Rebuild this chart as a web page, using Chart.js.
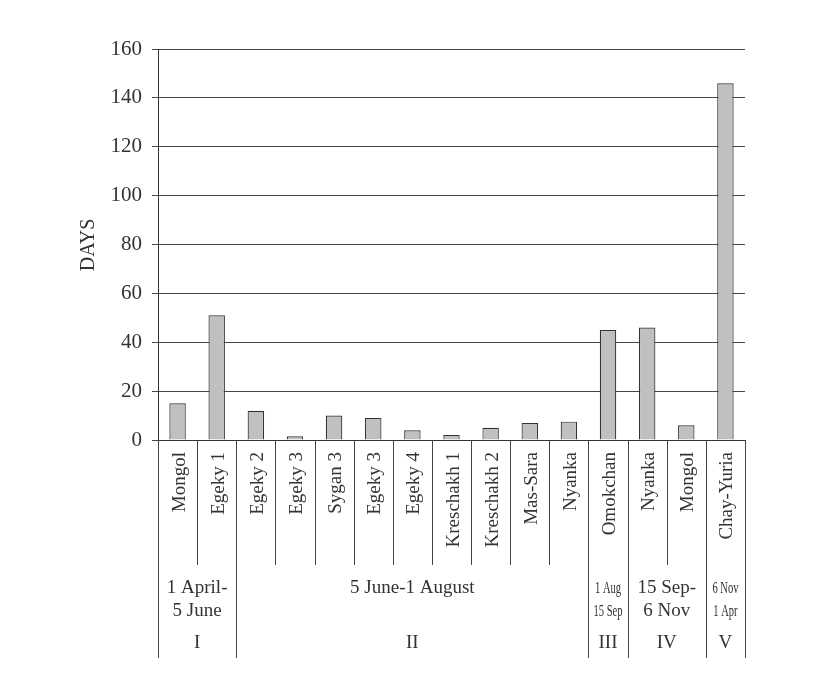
<!DOCTYPE html><html><head><style>body{margin:0;background:#fff}</style>
<script src="https://cdn.jsdelivr.net/npm/chart.js@4"></script></head><body>
<div style="width:820px;height:698px"><canvas id="c"></canvas></div>
<script>
const categories=["Mongol","Egeky 1","Egeky 2","Egeky 3","Sygan 3","Egeky 3","Egeky 4","Kreschakh 1","Kreschakh 2","Mas-Sara","Nyanka","Omokchan","Nyanka","Mongol","Chay-Yuria"];
const days=[15,51,12,1.5,10,9,4,2,5,7,7.5,45,46,6,146];
const groupStarts=[0,2,11,12,14,15];
const groupDates=[["1 April-","5 June"],["5 June-1 August"],["1 Aug","15 Sep"],["15 Sep-","6 Nov"],["6 Nov","1 Apr"]];
const groupSmall=[false,false,true,false,true];
const groupRoman=["I","II","III","IV","V"];
const FONT='"Liberation Serif","DejaVu Serif",serif';
const tablePlugin={id:'table',afterDraw(ch){
 const c=ch.ctx,x=ch.scales.x,top=ch.chartArea.bottom;
 const w=(ch.chartArea.right-ch.chartArea.left)/categories.length;
 const edge=i=>ch.chartArea.left+i*w;
 c.save();c.strokeStyle='#444';c.lineWidth=1;
 for(let i=0;i<=categories.length;i++){
  const X=Math.round(edge(i))+0.5, full=groupStarts.includes(i);
  c.beginPath();c.moveTo(X,top);c.lineTo(X,full?658:565);c.stroke();}
 c.fillStyle='#333';c.font='19px '+FONT;
 categories.forEach((l,i)=>{c.save();c.translate(x.getPixelForValue(i)+7,452);c.rotate(-Math.PI/2);c.textAlign='right';c.fillText(l,0,0);c.restore();});
 c.textAlign='center';
 groupDates.forEach((g,k)=>{
  const cx=(edge(groupStarts[k])+edge(groupStarts[k+1]))/2;
  if(groupSmall[k]){c.save();c.translate(cx,0);c.scale(0.62,1);c.font='17px '+FONT;g.forEach((t,j)=>c.fillText(t,0,593+j*23));c.restore();}
  else{c.font='19px '+FONT;g.forEach((t,j)=>c.fillText(t,cx,593+j*23));}
  c.font='19px '+FONT;c.fillText(groupRoman[k],cx,648);});
 c.save();c.translate(94,245);c.rotate(-Math.PI/2);c.font='20px '+FONT;c.fillText('DAYS',0,0);c.restore();
 c.restore();}};
new Chart(document.getElementById('c'),{type:'bar',
 data:{labels:categories,datasets:[{data:days,backgroundColor:'#c0c0c0',borderColor:'#333',borderWidth:1.2,categoryPercentage:1,barPercentage:0.42}]},
 options:{responsive:true,maintainAspectRatio:false,animation:false,
  layout:{padding:{top:49,right:75,left:0,bottom:0}},
  plugins:{legend:{display:false},tooltip:{enabled:false}},
  scales:{
   x:{grid:{display:false},border:{color:'#333'},ticks:{display:false},afterFit(s){s.height=258;}},
   y:{min:0,max:160,grid:{color:'#444',tickLength:6},border:{color:'#333'},
    ticks:{stepSize:20,color:'#333',font:{family:FONT,size:21},padding:10},
    afterFit(s){s.width=158;}}}},
 plugins:[tablePlugin]});
</script></body></html>
